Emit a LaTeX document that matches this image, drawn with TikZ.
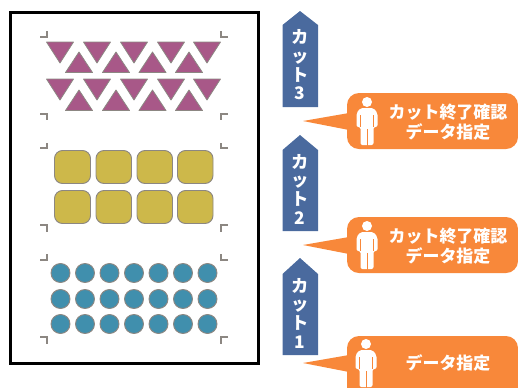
\documentclass[tikz,border=0pt]{standalone}
\usepackage{fontspec}
\newfontfamily\cjk{Noto Sans CJK JP}
\definecolor{trifill}{RGB}{168,88,136}
\definecolor{sqfill}{RGB}{205,184,74}
\definecolor{dotfill}{RGB}{64,143,173}
\definecolor{tabfill}{RGB}{74,106,158}
\definecolor{memofill}{RGB}{248,136,58}
\definecolor{edgegray}{RGB}{140,135,130}
\tikzset{
  downtri/.style={fill=trifill,draw=edgegray,line width=0.6pt,line join=round},
  uptri/.style={fill=trifill,draw=edgegray,line width=0.6pt,line join=round},
  sqbox/.style={fill=sqfill,draw=edgegray,line width=0.7pt,rounded corners=6pt},
  dotmark/.style={fill=dotfill,draw=edgegray,line width=0.7pt},
  cropmark/.style={draw=edgegray,line width=0.9pt},
  tabarrow/.style={fill=tabfill},
  memo/.style={fill=memofill},
  tabtext/.style={text=white,font=\cjk\bfseries\fontsize{13}{14}\selectfont,align=center,inner sep=0pt},
  memotext/.style={text=white,font=\cjk\bfseries\fontsize{12.7}{15}\selectfont,align=center,inner sep=0pt},
  personfig/.pic={
    \fill[white] (0,0) circle (5);
    \fill[white,rounded corners=1.5pt] (-6.5,6) -- (6.5,6) -- (10.5,11) -- (10.5,25) -- (6.5,25) -- (6.5,43) -- (-6.5,43) -- (-6.5,25) -- (-10.5,25) -- (-10.5,11) -- cycle;
    \draw[memofill,line width=0.6pt] (-6.5,13) -- (-6.5,25) (6.5,13) -- (6.5,25) (0,27) -- (0,44);
  }
}
\begin{document}
\begin{tikzpicture}[x=0.75pt,y=0.75pt,yscale=-1]
\useasboundingbox (0,0) rectangle (518,387);

%Page
\draw [line width=2.25pt] (10,12) rectangle (258,363);

%Cut 3 triangles
\draw [downtri] (46.5,42) -- (73.5,42) -- (60,63) -- cycle;
\draw [downtri] (83.5,42) -- (110.5,42) -- (97,63) -- cycle;
\draw [downtri] (120.5,42) -- (147.5,42) -- (134,63) -- cycle;
\draw [downtri] (157.5,42) -- (184.5,42) -- (171,63) -- cycle;
\draw [downtri] (193.5,42) -- (220.5,42) -- (207,63) -- cycle;
\draw [uptri] (65.5,72.5) -- (92.5,72.5) -- (79,52) -- cycle;
\draw [uptri] (102.5,72.5) -- (129.5,72.5) -- (116,52) -- cycle;
\draw [uptri] (139,72.5) -- (166,72.5) -- (152.5,52) -- cycle;
\draw [uptri] (175.5,72.5) -- (202.5,72.5) -- (189,52) -- cycle;
\draw [downtri] (46.5,79) -- (73.5,79) -- (60,100) -- cycle;
\draw [downtri] (83.5,79) -- (110.5,79) -- (97,100) -- cycle;
\draw [downtri] (120.5,79) -- (147.5,79) -- (134,100) -- cycle;
\draw [downtri] (157.5,79) -- (184.5,79) -- (171,100) -- cycle;
\draw [downtri] (193.5,79) -- (220.5,79) -- (207,100) -- cycle;
\draw [uptri] (65.5,110.5) -- (92.5,110.5) -- (79,90) -- cycle;
\draw [uptri] (102.5,110.5) -- (129.5,110.5) -- (116,90) -- cycle;
\draw [uptri] (139,110.5) -- (166,110.5) -- (152.5,90) -- cycle;
\draw [uptri] (175.5,110.5) -- (202.5,110.5) -- (189,90) -- cycle;

%Cut 2 squares
\draw [sqbox] (54.5,150.5) rectangle (90.5,183.5);
\draw [sqbox] (96,150.5) rectangle (131.5,183.5);
\draw [sqbox] (137,150.5) rectangle (172.5,183.5);
\draw [sqbox] (177.5,150.5) rectangle (213,183.5);
\draw [sqbox] (54.5,190.5) rectangle (90.5,223.5);
\draw [sqbox] (96,190.5) rectangle (131.5,223.5);
\draw [sqbox] (137,190.5) rectangle (172.5,223.5);
\draw [sqbox] (177.5,190.5) rectangle (213,223.5);

%Cut 1 circles
\draw [dotmark] (60.5,273) circle (9.5);
\draw [dotmark] (85,273) circle (9.5);
\draw [dotmark] (109.5,273) circle (9.5);
\draw [dotmark] (134,273) circle (9.5);
\draw [dotmark] (158.5,273) circle (9.5);
\draw [dotmark] (183,273) circle (9.5);
\draw [dotmark] (207.5,273) circle (9.5);
\draw [dotmark] (60.5,299) circle (9.5);
\draw [dotmark] (85,299) circle (9.5);
\draw [dotmark] (109.5,299) circle (9.5);
\draw [dotmark] (134,299) circle (9.5);
\draw [dotmark] (158.5,299) circle (9.5);
\draw [dotmark] (183,299) circle (9.5);
\draw [dotmark] (207.5,299) circle (9.5);
\draw [dotmark] (60.5,324) circle (9.5);
\draw [dotmark] (85,324) circle (9.5);
\draw [dotmark] (109.5,324) circle (9.5);
\draw [dotmark] (134,324) circle (9.5);
\draw [dotmark] (158.5,324) circle (9.5);
\draw [dotmark] (183,324) circle (9.5);
\draw [dotmark] (207.5,324) circle (9.5);

%Crop marks
\draw [cropmark] (40,37) -- (47,37) -- (47,31);
\draw [cropmark] (228,37) -- (221,37) -- (221,31);
\draw [cropmark] (40,114) -- (47,114) -- (47,120);
\draw [cropmark] (228,114) -- (221,114) -- (221,120);
\draw [cropmark] (40,148) -- (47,148) -- (47,143);
\draw [cropmark] (228,148) -- (221,148) -- (221,143);
\draw [cropmark] (40,225) -- (47,225) -- (47,232);
\draw [cropmark] (228,225) -- (221,225) -- (221,232);
\draw [cropmark] (40,260) -- (47,260) -- (47,254);
\draw [cropmark] (228,260) -- (221,260) -- (221,254);
\draw [cropmark] (40,337) -- (47,337) -- (47,344);
\draw [cropmark] (228,337) -- (221,337) -- (221,344);

%Tabs
\fill [tabarrow] (300,11) -- (318,25) -- (318,107) -- (282.5,107) -- (282.5,25) -- cycle;
\fill [tabarrow] (300,135) -- (318,150) -- (318,231) -- (282.5,231) -- (282.5,150) -- cycle;
\fill [tabarrow] (300,258) -- (318,274) -- (318,355) -- (282.5,355) -- (282.5,274) -- cycle;

%Memos
\fill [memo,rounded corners=9pt] (347,93) rectangle (518,149);
\fill [memo] (303,121) -- (349,113) -- (349,130) -- cycle;
\fill [memo,rounded corners=9pt] (347,217) rectangle (518,273);
\fill [memo] (303,245) -- (349,237) -- (349,254) -- cycle;
\fill [memo,rounded corners=9pt] (347,336) rectangle (518,400);
\fill [memo] (303,363) -- (349,355) -- (349,372) -- cycle;
\pic [transform shape] at (367,102) {personfig};
\pic [transform shape] at (367,226) {personfig};
\pic [transform shape] at (366,344) {personfig};

% Text Node
\node (tabc) [tabtext] at (300,65) {カ\\ッ\\ト\\3};
\node (tabb) [tabtext] at (300,189) {カ\\ッ\\ト\\2};
\node (taba) [tabtext] at (300,313) {カ\\ッ\\ト\\1};
\node (memoc) [memotext] at (448,122) {カット終了確認\\データ指定};
\node (memob) [memotext] at (448,246) {カット終了確認\\データ指定};
\node (memoa) [memotext] at (448,363) {データ指定};

\end{tikzpicture}
\end{document}
